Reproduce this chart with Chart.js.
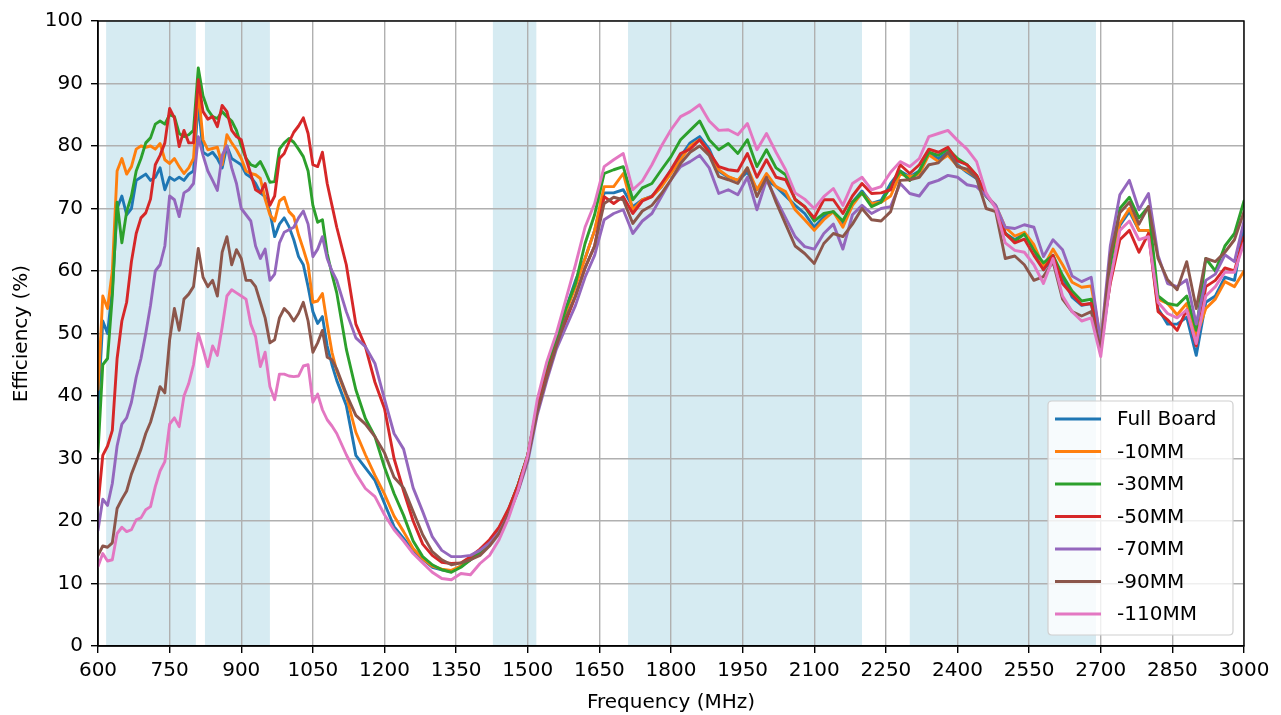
<!DOCTYPE html>
<html>
<head>
<meta charset="utf-8">
<script src="https://cdn.jsdelivr.net/npm/chart.js@4/dist/chart.umd.min.js"></script>
<style>
html,body{margin:0;padding:0;background:#fff;}
canvas{display:block;}
</style>
</head>
<body>
<canvas id="c" width="1281" height="715"></canvas>
<script>
// ---- Data ----
const frequencies = [
  600,610,620,630,640,650,660,670,680,690,
  700,710,720,730,740,750,760,770,780,790,
  800,810,820,830,840,850,860,870,880,890,
  900,910,920,930,940,950,960,970,980,990,
  1000,1010,1020,1030,1040,1050,1060,1070,1080,1090,
  1100,
  1120,1140,1160,1180,1200,1220,1240,1260,1280,1300,1320,1340,1360,1380,1400,1420,1440,1460,1480,1500,
  1520,1540,1560,1580,1600,1620,1640,1660,1680,1700,1720,1740,1760,1780,1800,1820,1840,1860,1880,1900,
  1920,1940,1960,1980,2000,2020,2040,2060,2080,2100,2120,2140,2160,2180,2200,2220,2240,2260,2280,2300,
  2320,2340,2360,2380,2400,2420,2440,2460,2480,2500,2520,2540,2560,2580,2600,2620,2640,2660,2680,2700,
  2720,2740,2760,2780,2800,2820,2840,2860,2880,2900,2920,2940,2960,2980,3000
];

const fullBoard = [
  38,52,50,57,70,72,69,70,74.5,75,
  75.5,74.5,75,76.5,73,75,74.5,75,74.5,75.5,
  76,87,79,78.5,79,78,76.5,80,78,77.5,
  77,75.5,75,74,72.5,71.9,69.5,65.5,67.5,68.5,
  67.1,65,62.3,61,57.5,53.5,51.6,52.7,48,45,
  42.5,
  38.5,30.5,28.5,26.5,22.8,19.1,17.2,15.2,13.9,12.6,12.2,11.9,12.8,13.8,15,16.5,18.8,21.8,25.8,30.5,
  38.5,44,49,54,58.5,62,66.5,72.5,72.5,73,70.3,71.4,72,73.5,76.2,78.3,80.5,81.5,79.5,76,
  75,74.5,75.8,73,74.6,73.5,72,70.5,69.2,67,68.7,69.5,67.5,71,72.8,70.8,71.3,74,76,75.1,
  76,78.8,78,79,77,75.8,74.8,72,70.3,66,65,66,63.5,60.2,62,59,55.8,54.5,54.8,47.3,
  58.5,67.3,69.5,66.5,66.5,54,51.5,51.5,52.6,46.5,55,56,59,58.5,67
];

const minus10mm = [
  41,56,54,60,76,78,75.5,76.7,79.5,80,
  79.8,80,79.5,80.4,77.8,77.2,78,76.7,75.6,76.5,
  78,89,81,79.4,79.6,79.8,77,81.8,80.5,79.4,
  78,76,75.6,75.4,74.8,71.5,69,68,71.2,71.8,
  69.5,68.7,65.8,63.5,61,55,55.2,56.4,51.5,47,
  44,
  40,34.2,30.6,27.3,24.3,20.8,18.3,15.6,14,12.8,12.3,12.1,12.8,14,15,16.5,18.8,21.8,25.8,30.5,
  38.5,44,49,53.5,57.5,62,66.5,73.5,73.5,75.6,69.8,71.4,71.9,73.5,75.6,77.8,80,81,79,76.2,
  75.1,74.5,76.5,73,75.6,73.5,72.7,69.8,68.2,66.5,68.2,69.5,67,70.5,72.5,70.8,71,72,75.5,75.1,
  75.5,78.6,77.5,78.5,76.8,76,75,72,70.5,67,65.6,66.2,64.2,60.7,63.5,61,58.2,57.4,57.6,49,
  61.5,67.6,70,66.5,66.5,55.5,54.8,53,54.8,49.5,54,55.5,58.3,57.5,60
];

const minus30mm = [
  31,45,46,56,71,64.5,69.5,72,76,78,
  80.5,81.3,83.5,84,83.5,85,84.7,82,81.5,81.8,
  82.5,92.5,88,85.8,84.7,84.4,85.5,84.7,84,82.5,
  80,78,77,76.7,77.5,76,74.2,74.3,79.5,80.5,
  81.2,80.6,79.5,78.3,76,70.5,67.8,68.2,62.8,59.5,
  56.5,
  47.5,41,36.4,33.5,28.6,24.4,20.9,16.8,14.3,13,12.2,11.8,12.6,13.8,15,16.5,18.8,21.8,25.8,30.5,
  38.5,44,49,54,58,64.4,69,75.6,76.2,76.7,71.4,73.3,74,76.2,78.3,81,82.5,84,81,79.4,
  80.4,78.8,81,76.7,79.4,76.5,75.4,71.4,70.3,68,69.2,69.5,68,71,72.5,70.3,71,73.5,76,74.5,
  76,79,78.5,79.5,78,77,75.3,72,70.3,66,64.8,65.9,63.3,61.3,62.5,59.3,56.8,55.2,55.5,48,
  61,70,71.8,68.5,70.3,56,54.8,54.5,56,50.5,62,60,64,66,71.2
];

const minus50mm = [
  22.5,30.5,32,34.5,46,52,55,61.5,66,68.5,
  69.3,71.5,77,78.5,80.5,86,84.5,79.9,82.5,80.5,
  80.5,90.6,85.5,84.3,84.7,83.1,86.5,85.5,82.5,81.5,
  81,78,75.5,73,72.5,74,70.5,72,78,78.8,
  80.6,82.2,83.2,84.5,82,77,76.7,79,74,70.5,
  67,
  61,51.5,47.9,42.2,38,30,24.8,20,16.3,14.5,13.4,13.2,13.3,14.3,15.5,17,19,22,25.8,30.5,
  38,43.5,48,52,56,60.5,64,71.9,70.8,71.9,69.2,71.2,71.9,74,76.2,78.8,79.5,81,79,76.7,
  76.2,76,78.8,75,77.8,75,74.6,71.5,70.3,68.5,71.4,71.4,69.2,72,74,72.4,72.5,73,77,75.6,
  77,79.5,79,79.8,77.6,77,75.3,72.2,70.3,66,64.5,65.1,62.5,60.2,62.5,58,56.2,54.6,54.8,48.5,
  58,65,66.5,63,66,53.5,52.2,50.5,53.8,48,57.5,58.5,60.5,60,65.5
];

const minus70mm = [
  18.5,23.5,22.5,26,32,35.5,36.5,39,43,46,
  50,54.5,60,61,64,72,71.4,68.7,72.5,73,
  74,81.5,78.5,76,74.5,72.9,78.5,80,76.5,74,
  70,69,68,64,62,63.5,58.5,59.5,64.5,66.2,
  66.6,67,68.5,69.6,67.5,62.3,63.5,65.5,62,60,
  58.5,
  53.5,49.3,47.9,45.2,39.5,34,31.5,25.3,21.5,17.5,15.3,14.3,14.3,14.5,15.3,16.5,18.2,21,24.8,29.5,
  37,42.5,47.5,51,54.5,59,62.5,68.2,69.2,69.8,66,68,69.2,71.9,74.6,76.7,77.5,78.5,76.5,72.4,
  73,72.2,75,69.8,74.6,71.5,68.5,65.5,63.9,63.5,66,67.5,63.5,69,70.5,69.2,70,70.3,74,72.4,
  72,74,74.5,75.3,75,73.8,73.5,72,70.5,67,66.8,67.4,67,62.3,65,63.4,59.2,58.3,59,48.5,
  64,72.2,74.5,69.8,72.4,62.5,58,57.5,58.6,51.5,58.5,59.5,62.6,61.5,68
];

const minus90mm = [
  14.5,16,15.8,16.5,22,23.5,24.8,27.5,29.5,31.5,
  34,35.8,38.5,41.5,40.5,49,54,50.5,55.5,56.3,
  57.5,63.6,59,57.5,58.5,56,63,65.5,61,63.4,
  62,58.5,58.5,57.5,55,52.5,48.5,49,52.5,54,
  53.2,52,53.2,55,52,47,48.5,50.5,46.2,45.8,
  44.3,
  40.3,36.9,35.5,33.5,30.9,27,25.3,21.5,17.8,15.1,13.8,13,13.3,13.8,14.5,16,18,21,25,30,
  37.5,43,48,52.5,56,60.5,64,70.8,71.8,71.4,67.6,69.6,70.5,72.4,74.6,77.2,79,80,78.5,75.1,
  74.6,74,76.5,71.9,75,71,67.5,64,62.8,61.2,64.4,66,65.5,67.5,70,68.2,68,69.5,74.5,74.6,
  75,77,77.3,79,76.7,76.3,74.8,70,69.5,62,62.4,61,58.5,59.1,61.5,55.5,53.5,52.8,53.5,47.5,
  62.5,69.3,71,67.5,70.3,62,58.6,57,61.5,54,62,61.5,63,65,69.5
];

const minus110mm = [
  12.7,14.8,13.6,13.8,18,19,18.3,18.6,20.2,20.5,
  21.8,22.3,25.5,28,29.5,35.5,36.5,35.1,40,42,
  45,50,47.5,44.7,48,46.5,51,56,57,56.5,
  56,55.5,51.5,49.5,44.7,47,41.5,39.4,43.5,43.5,
  43.2,43.1,43.2,44.8,45,39,40.3,37.8,36.2,35.2,
  34,
  30.6,27.6,25.2,23.9,21,18.6,16.8,14.8,13.3,11.8,10.8,10.6,11.6,11.4,13.2,14.5,17,20.5,25,30.5,
  39.5,45.5,50,55.5,61,67,70.8,76.7,77.8,78.8,73,74.4,77,80,82.6,84.7,85.5,86.6,84,82.5,
  82.6,81.8,83.6,79.4,82,79,76.2,72.5,71.5,70,71.9,73.2,70.5,74,75,73,73.5,75.8,77.5,76.7,
  78,81.5,82,82.5,80.9,79.5,77.5,72.5,70,64.5,63.3,63,61,58,62,56,53.5,52,52.5,46.3,
  58.5,66.5,68,65,65.5,55,53.2,52.5,53.8,48.4,56,57.5,59.8,59.8,64.5
];

const seriesLabels = ['Full Board', '-10MM', '-30MM', '-50MM', '-70MM', '-90MM', '-110MM'];
const seriesColors = ['#1f77b4', '#ff7f0e', '#2ca02c', '#d62728', '#9467bd', '#8c564b', '#e377c2'];
const seriesValues = [fullBoard, minus10mm, minus30mm, minus50mm, minus70mm, minus90mm, minus110mm];

// shaded frequency bands (MHz)
const bandStarts = [617, 824, 1427, 1710, 2300];
const bandEnds   = [805, 960, 1518, 2200, 2690];

const xTicks = [600, 750, 900, 1050, 1200, 1350, 1500, 1650, 1800, 1950, 2100, 2250, 2400, 2550, 2700, 2850, 3000];
const yTicks = [0, 10, 20, 30, 40, 50, 60, 70, 80, 90, 100];

// ---- Chart ----
const FONT = "'DejaVu Sans', 'Liberation Sans', sans-serif";
Chart.defaults.font.family = FONT;
Chart.defaults.font.size = 20;
Chart.defaults.color = '#000';

const bandPlugin = {
  id: 'bands',
  beforeDraw(chart) {
    const {ctx, chartArea: a, scales: {x}} = chart;
    ctx.save();
    ctx.fillStyle = '#ffffff';
    ctx.fillRect(0, 0, chart.width, chart.height);
    ctx.fillStyle = 'rgba(173,216,230,0.5)';
    bandStarts.forEach((f0, i) => {
      const x0 = x.getPixelForValue(f0);
      const x1 = x.getPixelForValue(bandEnds[i]);
      ctx.fillRect(x0, a.top, x1 - x0, a.bottom - a.top);
    });
    ctx.restore();
  }
};

const frameLegendPlugin = {
  id: 'frameLegend',
  afterDraw(chart) {
    const {ctx, chartArea: a} = chart;
    ctx.save();
    // spines
    ctx.strokeStyle = '#000';
    ctx.lineWidth = 1.4;
    ctx.strokeRect(a.left, a.top, a.right - a.left, a.bottom - a.top);
    // legend box (lower right inside the axes)
    const w = 185, h = 234, r = 4;
    const rx = a.right - 11 - w, ry = a.bottom - 11 - h;
    ctx.beginPath();
    ctx.moveTo(rx + r, ry);
    ctx.lineTo(rx + w - r, ry);
    ctx.quadraticCurveTo(rx + w, ry, rx + w, ry + r);
    ctx.lineTo(rx + w, ry + h - r);
    ctx.quadraticCurveTo(rx + w, ry + h, rx + w - r, ry + h);
    ctx.lineTo(rx + r, ry + h);
    ctx.quadraticCurveTo(rx, ry + h, rx, ry + h - r);
    ctx.lineTo(rx, ry + r);
    ctx.quadraticCurveTo(rx, ry, rx + r, ry);
    ctx.closePath();
    ctx.fillStyle = 'rgba(255,255,255,0.8)';
    ctx.fill();
    ctx.strokeStyle = '#d0d0d0';
    ctx.lineWidth = 1.2;
    ctx.stroke();
    chart.data.datasets.forEach((ds, i) => {
      const y = ry + 18 + i * 32.5;
      ctx.strokeStyle = ds.borderColor;
      ctx.lineWidth = 2.9;
      ctx.beginPath();
      ctx.moveTo(rx + 7, y);
      ctx.lineTo(rx + 53, y);
      ctx.stroke();
      ctx.fillStyle = '#000';
      ctx.font = '20px ' + FONT;
      ctx.textAlign = 'left';
      ctx.textBaseline = 'middle';
      ctx.fillText(ds.label, rx + 69, y + 1);
    });
    ctx.restore();
  }
};

new Chart(document.getElementById('c'), {
  type: 'line',
  data: {
    datasets: seriesValues.map((vals, i) => ({
      label: seriesLabels[i],
      data: frequencies.map((f, j) => ({x: f, y: vals[j]})),
      borderColor: seriesColors[i],
      backgroundColor: seriesColors[i],
      borderWidth: 2.9,
      pointRadius: 0,
      tension: 0,
      fill: false,
      borderJoinStyle: 'round',
      borderCapStyle: 'round',
      order: seriesValues.length - 1 - i
    }))
  },
  options: {
    responsive: false,
    animation: false,
    devicePixelRatio: 1,
    layout: {padding: {left: 0, right: 37, top: 21, bottom: 0}},
    plugins: {legend: {display: false}, tooltip: {enabled: false}},
    scales: {
      x: {
        type: 'linear',
        min: 600, max: 3000,
        afterBuildTicks: s => { s.ticks = xTicks.map(v => ({value: v})); },
        afterFit: s => { s.height = 69; },
        ticks: {callback: v => String(v), padding: 6, maxRotation: 0, autoSkip: false, color: '#000', font: {size: 20}},
        grid: {color: '#b0b0b0', lineWidth: 1.4, drawTicks: true, tickLength: 7, tickColor: '#000', tickWidth: 1.4},
        border: {display: true, color: '#000', width: 1.4},
        title: {display: true, text: 'Frequency (MHz)', color: '#000', font: {size: 20}, padding: {top: 3, bottom: 0}}
      },
      y: {
        type: 'linear',
        min: 0, max: 100,
        afterBuildTicks: s => { s.ticks = yTicks.map(v => ({value: v})); },
        afterFit: s => { s.width = 98; },
        ticks: {callback: v => String(v), padding: 8, color: '#000', font: {size: 20}},
        grid: {color: '#b0b0b0', lineWidth: 1.4, drawTicks: true, tickLength: 7, tickColor: '#000', tickWidth: 1.4},
        border: {display: true, color: '#000', width: 1.4},
        title: {display: true, text: 'Efficiency (%)', color: '#000', font: {size: 20}, padding: {top: 10, bottom: 0}}
      }
    }
  },
  plugins: [bandPlugin, frameLegendPlugin]
});
</script>
</body>
</html>
